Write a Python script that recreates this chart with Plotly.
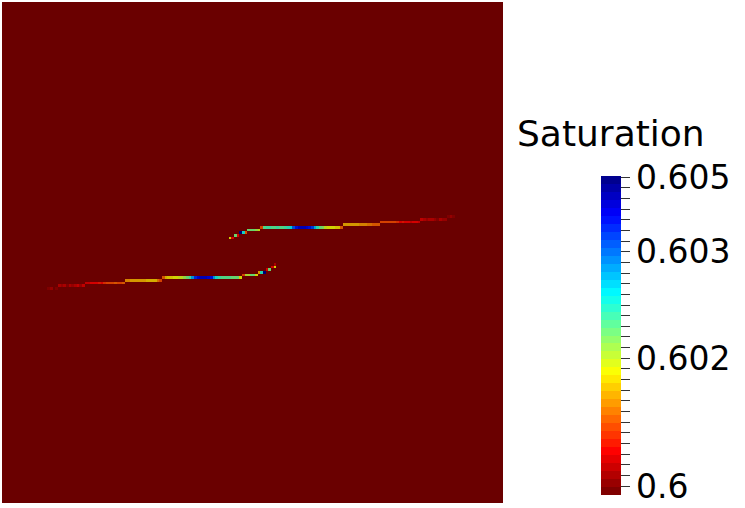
import numpy as np
import plotly.graph_objects as go

# ---------------- data ----------------
GRID_N = 188                 # cells per side of the square domain
BACKGROUND = 0.6             # saturation of the matrix
SAT_MIN = 0.6
SAT_MAX = 0.605
colorbar_title = "Saturation"
tick_labels = {0: "0.6", 12: "0.602", 22: "0.603", 29: "0.605"}

# lower fracture: row (from top), first column, values along the row
lower_rows = [107, 106, 105, 104, 103, 102, 101, 100, 99, 98]
lower_start_cols = [17, 21, 31, 46, 60, 90, 96, 99, 101, 102]
lower_values = [
    [0.6002, 0.6003, 0.6001, 0.6002],
    [0.6004, 0.6003, 0.6004, 0.6002, 0.6004, 0.6003, 0.6004, 0.6005, 0.6003, 0.6005],
    [0.6006, 0.6006, 0.6007, 0.6007, 0.6007, 0.6008, 0.6007, 0.6009,
     0.6011, 0.6011, 0.6011, 0.6012, 0.6011, 0.6011, 0.6012],
    [0.6014, 0.6014, 0.6015, 0.6015, 0.6015, 0.6016, 0.6016, 0.6016,
     0.6017, 0.6017, 0.6017, 0.6017, 0.6013, 0.6010],
    [0.6012, 0.6017, 0.6018, 0.6018, 0.6019, 0.6019, 0.6020, 0.6021, 0.6023, 0.6026,
     0.6028, 0.6036, 0.6042, 0.6044, 0.6045, 0.6045, 0.6045, 0.6044, 0.6043, 0.6036,
     0.6031, 0.6028, 0.6027, 0.6027, 0.6027, 0.6027, 0.6026, 0.6026, 0.6025, 0.6019],
    [0.6010, 0.60215, 0.60215, 0.6026, 0.6026, 0.6019],
    [0.6015, 0.6029, 0.6050],
    [0.6007, 0.6025],
    [0.6007, 0.6019],
    [0.6004],
]

# upper fracture
upper_rows = [88, 87, 86, 85, 84, 83, 82, 81, 80]
upper_start_cols = [85, 87, 89, 92, 97, 128, 142, 157, 167]
upper_values = [
    [0.6019, 0.6007],
    [0.6025, 0.6007],
    [0.6050, 0.6031, 0.6012],
    [0.6026, 0.6026, 0.6025, 0.6023, 0.6021],
    [0.6011,
     0.6027, 0.6028, 0.6028, 0.6027, 0.6027, 0.6028, 0.6027, 0.6027, 0.6028, 0.6029,
     0.6032,
     0.6039, 0.6043, 0.6045, 0.6045, 0.6045, 0.6044, 0.6043, 0.6040,
     0.6034, 0.6029, 0.6026, 0.6024, 0.6021,
     0.6019, 0.6019, 0.6019, 0.6018, 0.6018,
     0.6012],
    [0.6016, 0.6016, 0.6016, 0.6016, 0.6015, 0.6015, 0.6014, 0.6014, 0.6014,
     0.6013, 0.6013, 0.6012, 0.6012, 0.6012],
    [0.6010, 0.6011, 0.6011, 0.6011, 0.6011, 0.6010, 0.6009, 0.6007, 0.6008,
     0.6007, 0.6007, 0.6006, 0.6007, 0.6007, 0.6006],
    [0.6005, 0.6004, 0.6003, 0.6004, 0.6004, 0.6003, 0.6002, 0.6004, 0.6003, 0.6003],
    [0.6002, 0.6003, 0.6002],
]

# ---------------- build grid ----------------
z = np.full((GRID_N, GRID_N), BACKGROUND)
for rows, starts, vals in [(lower_rows, lower_start_cols, lower_values),
                           (upper_rows, upper_start_cols, upper_values)]:
    for r, c0, v in zip(rows, starts, vals):
        z[r, c0:c0 + len(v)] = v

# ---------------- colour scales (reversed jet, banded) ----------------
jet_stops = [(0.0, (0.5, 0, 0)), (0.127, (1, 0, 0)), (0.381, (1, 1, 0)),
             (0.508, (0.5, 1, 0.5)), (0.635, (0, 1, 1)), (0.889, (0, 0, 1)),
             (1.0, (0, 0, 0.5625))]


def jet(f):
    pos = [s[0] for s in jet_stops]
    return [float(np.interp(f, pos, [s[1][k] for s in jet_stops])) for k in range(3)]


def banded(n, shade):
    scale = []
    for k in range(n):
        c = jet(k / (n - 1))
        col = "rgb(%d,%d,%d)" % tuple(int(round(255 * shade * x)) for x in c)
        scale.append([k / n, col])
        scale.append([(k + 1) / n, col])
    return scale


lit_scale = banded(40, 0.83)
bar_scale = banded(40, 1.0)

# colorbar ticks
n_ticks = 30
f_lo, f_hi = 0.0282, 0.9959
tick_vals = [SAT_MIN + (SAT_MAX - SAT_MIN) * (f_lo + i * (f_hi - f_lo) / (n_ticks - 1))
             for i in range(n_ticks)]
tick_text = [tick_labels.get(i, "") for i in range(n_ticks)]

fig = go.Figure()
fig.add_trace(go.Heatmap(
    z=z, x0=0, dx=1, y0=0, dy=1,
    zmin=SAT_MIN, zmax=SAT_MAX, colorscale=lit_scale,
    showscale=False, zsmooth=False, hoverinfo="skip"))

fig.add_trace(go.Scatter(
    x=[None], y=[None], mode="markers", showlegend=False, hoverinfo="skip",
    marker=dict(color=[SAT_MIN], cmin=SAT_MIN, cmax=SAT_MAX, colorscale=bar_scale,
                showscale=True,
                colorbar=dict(
                    x=(601 - 2) / 501, xanchor="left", xpad=0,
                    y=(503 - 335.5) / 501, yanchor="middle", ypad=0,
                    len=319, lenmode="pixels", thickness=20, thicknessmode="pixels",
                    outlinewidth=0,
                    tickmode="array", tickvals=tick_vals, ticktext=tick_text,
                    ticks="outside", ticklen=9, tickwidth=1, tickcolor="#333333",
                    tickfont=dict(family="DejaVu Sans", size=33, color="black"),
                ))))

fig.add_annotation(
    text=colorbar_title, xref="paper", yref="paper",
    x=(515 - 2) / 501, y=(503 - 134) / 501, xanchor="left", yanchor="middle",
    showarrow=False, font=dict(family="DejaVu Sans", size=36, color="black"))

fig.update_xaxes(range=[-0.5, GRID_N - 0.5], visible=False, showgrid=False, zeroline=False)
fig.update_yaxes(range=[GRID_N - 0.5, -0.5], visible=False, showgrid=False, zeroline=False)
fig.update_layout(
    width=745, height=508,
    margin=dict(l=2, r=242, t=2, b=5, autoexpand=False),
    paper_bgcolor="white", plot_bgcolor="white",
    showlegend=False)

fig.write_html("out.html", config={"displayModeBar": False},
               post_script="document.body.style.margin='0';document.body.style.overflow='hidden';")
